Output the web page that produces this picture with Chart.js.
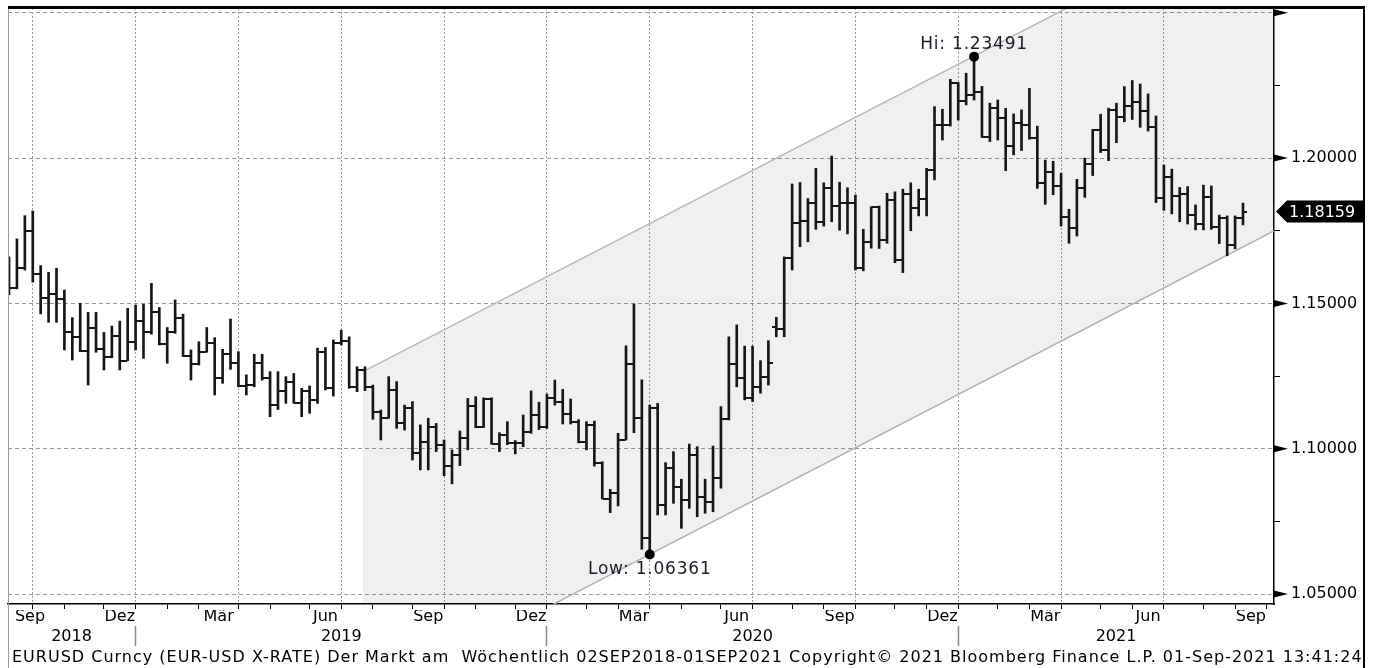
<!DOCTYPE html>
<html>
<head>
<meta charset="utf-8">
<script src="https://cdn.jsdelivr.net/npm/chart.js@4.4.1/dist/chart.umd.min.js"></script>
<style>
  html, body { margin: 0; padding: 0; background: #fff; }
  #wrap { width: 1375px; height: 668px; }
</style>
</head>
<body>
<div id="wrap"><canvas id="eurusd" width="1375" height="668"></canvas></div>
<script>
// EURUSD weekly bars, week 0 = week ending 07 Sep 2018, week 156 = 01 Sep 2021
const opens = [
  1.1596,1.1552,1.1621,1.1750,1.1601,1.1520,1.1531,1.1515,1.1403,1.1385,
  1.1337,1.1414,1.1343,1.1317,1.1389,1.1303,1.1368,1.1440,1.1400,1.1469,
  1.1360,1.1403,1.1451,1.1319,1.1291,1.1334,1.1365,1.1242,1.1325,1.1296,
  1.1216,1.1219,1.1296,1.1242,1.1150,1.1199,1.1230,1.1157,1.1197,1.1168,
  1.1332,1.1208,1.1363,1.1371,1.1213,1.1271,1.1213,1.1128,1.1105,1.1202,
  1.1087,1.1139,1.0986,1.1024,1.1074,1.1013,1.0942,1.0978,1.1036,1.1147,
  1.1076,1.1171,1.1016,1.1047,1.1018,1.1019,1.1059,1.1116,1.1076,1.1173,
  1.1160,1.1119,1.1091,1.1024,1.1082,1.0950,1.0828,1.0847,1.1030,1.1290,
  1.1105,1.0694,1.1140,1.0806,1.0933,1.0869,1.0823,1.0978,1.0835,1.0818,
  1.0898,1.1101,1.1291,1.1243,1.1173,1.1213,1.1246,1.1420,1.1411,1.1655,
  1.1776,1.1785,1.1844,1.1781,1.1898,1.1835,1.1844,1.1844,1.1623,1.1712,
  1.1831,1.1718,1.1856,1.1649,1.1876,1.1828,1.1858,1.1960,1.2114,1.2114,
  1.2257,1.2197,1.2217,1.2229,1.2074,1.2171,1.2137,1.2042,1.2120,1.2114,
  1.2068,1.1913,1.1953,1.1905,1.1798,1.1758,1.1896,1.1981,1.2097,1.2028,
  1.2165,1.2143,1.2178,1.2192,1.2163,1.2108,1.1862,1.1934,1.1868,1.1876,
  1.1804,1.1773,1.1865,1.1762,1.1795,1.1700,1.1795
];
const highs = [
  1.1660,1.1722,1.1802,1.1818,1.1630,1.1607,1.1621,1.1546,1.1451,1.1500,
  1.1469,1.1469,1.1400,1.1422,1.1439,1.1483,1.1494,1.1497,1.1569,1.1486,
  1.1417,1.1512,1.1463,1.1340,1.1368,1.1417,1.1382,1.1342,1.1446,1.1334,
  1.1254,1.1325,1.1325,1.1265,1.1265,1.1248,1.1259,1.1208,1.1216,1.1346,
  1.1348,1.1374,1.1408,1.1385,1.1282,1.1282,1.1219,1.1133,1.1248,1.1231,
  1.1150,1.1162,1.1082,1.1105,1.1087,1.1030,1.0996,1.1061,1.1173,1.1179,
  1.1175,1.1175,1.1055,1.1093,1.1028,1.1116,1.1199,1.1160,1.1188,1.1236,
  1.1204,1.1171,1.1100,1.1093,1.1095,1.0955,1.0860,1.1053,1.1354,1.1498,
  1.1237,1.1150,1.1156,1.0952,1.0990,1.0895,1.1016,1.1007,1.0895,1.1009,
  1.1145,1.1385,1.1426,1.1353,1.1353,1.1303,1.1372,1.1452,1.1660,1.1911,
  1.1916,1.1861,1.1965,1.1915,1.2007,1.1917,1.1898,1.1873,1.1755,1.1833,
  1.1835,1.1879,1.1884,1.1893,1.1915,1.1893,1.1965,1.2177,1.2168,1.2271,
  1.2260,1.2292,1.23491,1.2247,1.2189,1.2200,1.2171,1.2152,1.2166,1.2240,
  1.2110,1.1993,1.1989,1.1948,1.1824,1.1927,1.2000,1.2099,1.2151,1.2172,
  1.2189,1.2246,1.2267,1.2255,1.2221,1.2145,1.1976,1.1962,1.1899,1.1902,
  1.1839,1.1907,1.1904,1.1804,1.1801,1.1801,1.1845
];
const lows = [
  1.1530,1.1550,1.1615,1.1573,1.1464,1.1435,1.1435,1.1340,1.1305,1.1334,
  1.1219,1.1332,1.1271,1.1313,1.1271,1.1303,1.1340,1.1311,1.1394,1.1357,
  1.1294,1.1397,1.1317,1.1236,1.1288,1.1332,1.1185,1.1225,1.1273,1.1213,
  1.1185,1.1213,1.1236,1.1110,1.1135,1.1156,1.1156,1.1110,1.1122,1.1156,
  1.1202,1.1181,1.1357,1.1208,1.1196,1.1200,1.1101,1.1030,1.1105,1.1070,
  1.1064,1.0961,1.0927,1.0927,1.0990,1.0907,1.0879,1.0942,1.0996,1.1072,
  1.1073,1.1015,1.0990,1.1014,1.0982,1.1007,1.1053,1.1066,1.1070,1.1150,
  1.1085,1.1085,1.1020,1.0996,1.0940,1.0827,1.0780,1.0803,1.1030,1.1055,
  1.0654,1.06361,1.0772,1.0772,1.0812,1.0726,1.0795,1.0766,1.0778,1.0783,
  1.0864,1.1099,1.1213,1.1168,1.1162,1.1191,1.1219,1.1385,1.1385,1.1615,
  1.1695,1.1712,1.1755,1.1766,1.1781,1.1752,1.1739,1.1615,1.1612,1.1690,
  1.1689,1.1707,1.1640,1.1606,1.1750,1.1801,1.1801,1.1925,1.2062,1.2110,
  1.2131,1.2183,1.2200,1.2071,1.2057,1.2062,1.1957,1.2011,1.2026,1.2065,
  1.1896,1.1841,1.1874,1.1766,1.1707,1.1732,1.1865,1.1940,1.2019,1.1991,
  1.2053,1.2125,1.2133,1.2106,1.2093,1.1847,1.1820,1.1808,1.1781,1.1773,
  1.1753,1.1753,1.1755,1.1706,1.1664,1.1688,1.1770
];
const closes = [
  1.1552,1.1621,1.1750,1.1601,1.1520,1.1531,1.1515,1.1403,1.1385,1.1337,
  1.1414,1.1343,1.1317,1.1389,1.1303,1.1368,1.1440,1.1400,1.1469,1.1360,
  1.1403,1.1451,1.1319,1.1291,1.1334,1.1365,1.1242,1.1325,1.1296,1.1216,
  1.1219,1.1296,1.1242,1.1150,1.1199,1.1230,1.1157,1.1197,1.1168,1.1332,
  1.1208,1.1363,1.1371,1.1213,1.1271,1.1213,1.1128,1.1105,1.1202,1.1087,
  1.1139,1.0986,1.1024,1.1074,1.1013,1.0942,1.0978,1.1036,1.1147,1.1076,
  1.1171,1.1016,1.1047,1.1018,1.1019,1.1059,1.1116,1.1076,1.1173,1.1160,
  1.1119,1.1091,1.1024,1.1082,1.0950,1.0828,1.0847,1.1030,1.1290,1.1105,
  1.0694,1.1140,1.0806,1.0933,1.0869,1.0823,1.0978,1.0835,1.0818,1.0898,
  1.1101,1.1291,1.1243,1.1173,1.1213,1.1246,1.1296,1.1411,1.1655,1.1776,
  1.1785,1.1844,1.1781,1.1898,1.1835,1.1844,1.1844,1.1623,1.1712,1.1831,
  1.1718,1.1856,1.1649,1.1876,1.1828,1.1858,1.1960,1.2114,1.2114,1.2257,
  1.2197,1.2217,1.2229,1.2074,1.2171,1.2137,1.2042,1.2120,1.2114,1.2068,
  1.1913,1.1953,1.1905,1.1798,1.1758,1.1896,1.1981,1.2097,1.2028,1.2165,
  1.2143,1.2178,1.2192,1.2163,1.2108,1.1862,1.1934,1.1868,1.1876,1.1804,
  1.1773,1.1865,1.1762,1.1795,1.1700,1.1795,1.18159
];

// hi / low markers
const extremeWeeks = [122, 81];
const extremeValues = [1.23491, 1.06361];
const extremeLabels = ['Hi: 1.23491', 'Low: 1.06361'];

// trend channel (start week, right edge)
const channelWeeks = [44.75, 159.9];
const channelUpper = [1.1265, 1.2884];
const channelLower = [1.0125, 1.1749];

// x axis: month-end weeks, quarter ends get a grid line
const monthEnds = [3,7,12,16,20,24,29,33,38,42,46,51,55,59,64,68,73,77,81,85,90,94,99,103,107,112,116,120,125,129,133,138,142,146,151,155,159];
const quarterEnds = [3,16,29,42,55,68,81,94,107,120,133,146];
const monthLabelWeeks = [2.65,14,26.5,40,53,66,79,92,105,118,131,144,157];
const monthLabels = ['Sep','Dez','Mär','Jun','Sep','Dez','Mär','Jun','Sep','Dez','Mär','Jun','Sep'];
const yearTickWeeks = [7.9,16,42,68,94,120,139.95];
const yearLabels = ['2018','','2019','','2020','','2021'];

// y axis
const yTicks = [1.05,1.075,1.10,1.125,1.15,1.175,1.20,1.225,1.25];
const lastPrice = 1.18159;

const footnote = 'EURUSD Curncy (EUR-USD X-RATE) Der Markt am  Wöchentlich 02SEP2018-01SEP2021 Copyright\u00A9 2021 Bloomberg Finance L.P. 01-Sep-2021 13:41:24';

const X_MIN = -0.13, X_MAX = 159.92;
const Y_MIN = 1.04656, Y_MAX = 1.25165;
const GRID = '#9a9a9a';
const BAR = '#161616';

Chart.defaults.font.family = '"DejaVu Sans", Verdana, sans-serif';
Chart.defaults.color = '#000';

const isMajor = v => Math.abs(v * 20 - Math.round(v * 20)) < 1e-6;

function tickImage(side) {
  const c = document.createElement('canvas');
  c.width = 9; c.height = 2;
  const g = c.getContext('2d');
  g.fillStyle = BAR;
  if (side === 'left') g.fillRect(0, 0, 4, 2); else g.fillRect(5, 0, 4, 2);
  return c;
}

function spacedText(ctx, text, x, y, spacing) {
  if ('letterSpacing' in ctx) {
    ctx.letterSpacing = spacing + 'px';
    ctx.fillText(text, x, y);
    ctx.letterSpacing = '0px';
  } else {
    ctx.fillText(text, x, y);
  }
}

const decor = {
  id: 'decor',
  afterDraw(chart) {
    const { ctx, chartArea: a, scales } = chart;
    const y = scales.y;
    const right = y.right;
    ctx.save();

    // frame
    ctx.strokeStyle = '#9a9a9a';
    ctx.lineWidth = 1;
    ctx.beginPath(); ctx.moveTo(a.left + 0.5, a.top); ctx.lineTo(a.left + 0.5, chart.height); ctx.stroke();
    ctx.strokeStyle = '#000';
    ctx.lineWidth = 3;
    ctx.beginPath(); ctx.moveTo(a.left, a.top - 0.5); ctx.lineTo(right, a.top - 0.5); ctx.stroke();
    ctx.lineWidth = 2;
    ctx.beginPath(); ctx.moveTo(right - 1, a.top); ctx.lineTo(right - 1, chart.height); ctx.stroke();

    // arrow heads on major y ticks
    ctx.fillStyle = '#000';
    y.ticks.forEach(t => {
      if (!isMajor(t.value)) return;
      const py = y.getPixelForValue(t.value);
      ctx.beginPath();
      ctx.moveTo(a.right, py - 3.5);
      ctx.lineTo(a.right + 14, py);
      ctx.lineTo(a.right, py + 3.5);
      ctx.closePath();
      ctx.fill();
    });

    // last price box
    const py = y.getPixelForValue(lastPrice);
    ctx.beginPath();
    ctx.moveTo(a.right + 2, py);
    ctx.lineTo(a.right + 13, py - 11);
    ctx.lineTo(right - 2, py - 11);
    ctx.lineTo(right - 2, py + 11);
    ctx.lineTo(a.right + 13, py + 11);
    ctx.closePath();
    ctx.fill();
    ctx.fillStyle = '#fff';
    ctx.font = '16px "DejaVu Sans"';
    ctx.textAlign = 'left';
    ctx.textBaseline = 'middle';
    ctx.fillText(lastPrice.toFixed(5), a.right + 15, py + 1);

    // hi / low labels
    const meta = chart.getDatasetMeta(5);
    ctx.fillStyle = '#1c1c28';
    ctx.font = '17px "DejaVu Sans"';
    ctx.textAlign = 'center';
    meta.data.forEach((pt, i) => {
      const dy = i === 0 ? -12 : 15;
      spacedText(ctx, extremeLabels[i], pt.x, pt.y + dy, 0.8);
    });

    // footnote
    ctx.fillStyle = '#000';
    ctx.font = '16px "DejaVu Sans"';
    ctx.textAlign = 'left';
    spacedText(ctx, footnote, 12, 658, 1);
    ctx.restore();
  }
};

new Chart(document.getElementById('eurusd'), {
  type: 'line',
  data: {
    datasets: [
      {
        type: 'line',
        data: channelWeeks.map((x, i) => ({ x, y: channelUpper[i] })),
        borderColor: '#b8b8b8',
        borderWidth: 1.5,
        pointRadius: 0,
        fill: '+1',
        backgroundColor: 'rgba(0,0,0,0.06)',
        order: 10
      },
      {
        type: 'line',
        data: channelWeeks.map((x, i) => ({ x, y: channelLower[i] })),
        borderColor: '#b8b8b8',
        borderWidth: 1.5,
        pointRadius: 0,
        fill: false,
        order: 10
      },
      {
        type: 'bar',
        data: highs.map((h, i) => ({ x: i, y: [lows[i], h] })),
        backgroundColor: BAR,
        borderWidth: 0,
        barThickness: 2,
        order: 3
      },
      {
        type: 'scatter',
        data: opens.map((o, i) => ({ x: i, y: o })),
        pointStyle: tickImage('left'),
        order: 2
      },
      {
        type: 'scatter',
        data: closes.map((c, i) => ({ x: i, y: c })),
        pointStyle: tickImage('right'),
        order: 2
      },
      {
        type: 'scatter',
        data: extremeWeeks.map((x, i) => ({ x, y: extremeValues[i] })),
        pointStyle: 'circle',
        pointRadius: 5,
        pointBackgroundColor: '#000',
        pointBorderColor: '#000',
        pointBorderWidth: 0,
        order: 1
      }
    ]
  },
  options: {
    responsive: false,
    animation: false,
    events: [],
    layout: { padding: { left: 8, right: 10, top: 8, bottom: 20 } },
    plugins: {
      legend: { display: false },
      tooltip: { enabled: false }
    },
    scales: {
      x: {
        type: 'linear',
        min: X_MIN, max: X_MAX,
        offset: false,
        weight: 0,
        afterBuildTicks: s => { s.ticks = monthEnds.map(v => ({ value: v })); },
        afterFit: s => { s.height = 6; s.paddingLeft = 0; s.paddingRight = 0; },
        ticks: { display: false, autoSkip: false, callback: () => '' },
        grid: {
          offset: false,
          color: c => (c.tick && quarterEnds.includes(c.tick.value)) ? GRID : 'rgba(0,0,0,0)',
          lineWidth: 1,
          tickLength: 5,
          tickColor: '#000',
          tickWidth: 1
        },
        border: { color: '#000', width: 1.5, dash: [2, 2] }
      },
      x2: {
        type: 'linear',
        position: 'bottom',
        min: X_MIN, max: X_MAX,
        offset: false,
        weight: 1,
        afterBuildTicks: s => { s.ticks = monthLabelWeeks.map(v => ({ value: v })); },
        afterFit: s => { s.height = 16; s.paddingLeft = 0; s.paddingRight = 0; },
        ticks: {
          autoSkip: false, maxRotation: 0, padding: -3,
          font: { size: 16 }, color: '#000',
          callback: (v, i) => monthLabels[i]
        },
        grid: { display: false, drawTicks: false },
        border: { display: false }
      },
      x3: {
        type: 'linear',
        position: 'bottom',
        min: X_MIN, max: X_MAX,
        offset: false,
        weight: 2,
        afterBuildTicks: s => { s.ticks = yearTickWeeks.map(v => ({ value: v })); },
        afterFit: s => { s.height = 22; s.paddingLeft = 0; s.paddingRight = 0; },
        ticks: {
          autoSkip: false, maxRotation: 0, padding: -19,
          font: { size: 16 }, color: '#000',
          callback: (v, i) => yearLabels[i]
        },
        grid: {
          drawOnChartArea: false,
          drawTicks: true,
          tickLength: 20,
          tickWidth: 1.5,
          tickColor: c => yearLabels[c.index] === '' ? '#8c8c8c' : 'rgba(0,0,0,0)'
        },
        border: { display: false }
      },
      y: {
        type: 'linear',
        position: 'right',
        min: Y_MIN, max: Y_MAX,
        afterBuildTicks: s => { s.ticks = yTicks.map(v => ({ value: v })); },
        afterFit: s => { s.width = 91; s.paddingTop = 0; s.paddingBottom = 0; },
        ticks: {
          padding: 11,
          autoSkip: false,
          font: { size: 16 }, color: '#000',
          callback: v => (isMajor(v) && v < 1.24) ? v.toFixed(5) : ''
        },
        grid: {
          color: c => (c.tick && isMajor(c.tick.value)) ? GRID : 'rgba(0,0,0,0)',
          lineWidth: 1,
          tickLength: 6,
          tickColor: '#000',
          tickWidth: 1
        },
        border: { color: '#000', width: 1.5, dash: [4, 3] }
      }
    }
  },
  plugins: [decor]
});
</script>
</body>
</html>
